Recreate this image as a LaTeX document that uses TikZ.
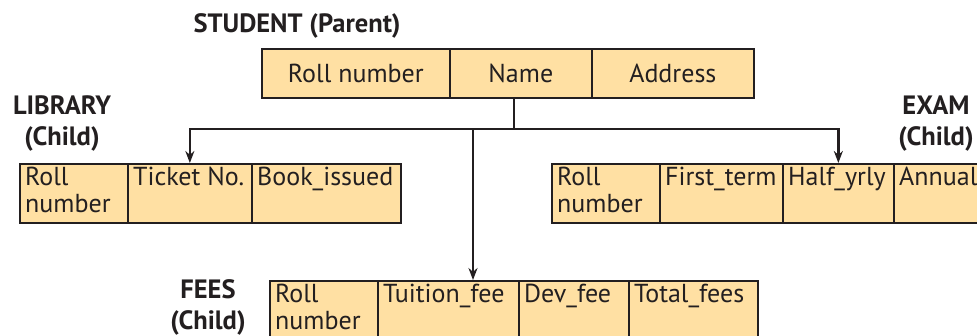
\documentclass[tikz,border=0pt]{standalone}
\usepackage{fontspec}
\setmainfont{PT Sans}
\usetikzlibrary{arrows.meta}
\definecolor{cellfill}{RGB}{255,224,163}
\definecolor{ink}{RGB}{35,31,32}
\newcommand\cellrows[1]{\begin{tabular}[t]{@{}l@{}}#1\end{tabular}}
\newcommand\labelrows[1]{\begin{tabular}[t]{@{}c@{}}#1\end{tabular}}
\newcommand\tcell[6]{%
  \node[cellbox, minimum width={#3-#2}, minimum height={#5-#4}] (#1) at (#2,#4) {};
  \node[celltext] at ([xshift=6pt,yshift=-23pt]#1.north west) {\cellrows{#6}};}
\begin{document}
\begin{tikzpicture}[x=1pt,y=-1pt,
  cellbox/.style={draw=ink, line width=1.7pt, fill=cellfill, inner sep=0pt, anchor=north west},
  celltext/.style={anchor=base west, inner sep=0pt, text=ink, font=\fontsize{26}{27}\selectfont},
  headtext/.style={inner sep=0pt, text=ink, font=\fontsize{26}{27}\selectfont},
  title/.style={anchor=base, inner sep=0pt, text=ink, font=\bfseries\fontsize{26.5}{30.5}\selectfont},
  conn/.style={draw=ink, line width=2.3pt},
  arr/.style={conn, -{Stealth[length=12pt,width=9pt]}}]
\clip (0,0) rectangle (977,336);
\fill[white] (0,0) rectangle (977,336);

% STUDENT (parent)
\node[title] (tstudent) at (297,33) {STUDENT (Parent)};
\node[cellbox, minimum width=188, minimum height=49] (sroll) at (261,48) {};
\node[cellbox, minimum width=142, minimum height=49] (sname) at (449,48) {};
\node[cellbox, minimum width=162, minimum height=49] (saddr) at (591,48) {};
\node[headtext] at (sroll.center) {Roll number};
\node[headtext] at (sname.center) {Name};
\node[headtext] at (saddr.center) {Address};

% LIBRARY (child)
\node[title] (tlib) at (62,115) {\labelrows{LIBRARY\\(Child)}};
\tcell{lroll}{19}{127}{163}{222}{Roll\\number}
\tcell{lticket}{127}{251}{163}{222}{Ticket No.}
\tcell{lbook}{251}{400}{163}{222}{Book\_issued}

% EXAM (child)
\node[title] (texam) at (936,115) {\labelrows{EXAM\\(Child)}};
\tcell{xroll}{551}{659}{163}{222}{Roll\\number}
\tcell{xfirst}{659}{782}{163}{222}{First\_term}
\tcell{xhalf}{782}{893}{163}{222}{Half\_yrly}
\tcell{xannual}{893}{1010}{163}{222}{Annual}

% FEES (child)
\node[title] (tfees) at (208,299) {\labelrows{FEES\\(Child)}};
\tcell{froll}{269}{377}{280}{339}{Roll\\number}
\tcell{ftuition}{377}{518}{280}{339}{Tuition\_fee}
\tcell{fdev}{518}{628}{280}{339}{Dev\_fee}
\tcell{ftotal}{628}{757}{280}{339}{Total\_fees}

% connectors
\coordinate (j) at (514,129);
\coordinate (jf) at (473,129);
\draw[conn] (sname.south -| j) -- (j);
\draw[arr] (j) -| (lticket.north);
\draw[arr] (j) -| (xhalf.north);
\draw[arr] (jf) -- (jf |- ftuition.north);
\end{tikzpicture}
\end{document}
